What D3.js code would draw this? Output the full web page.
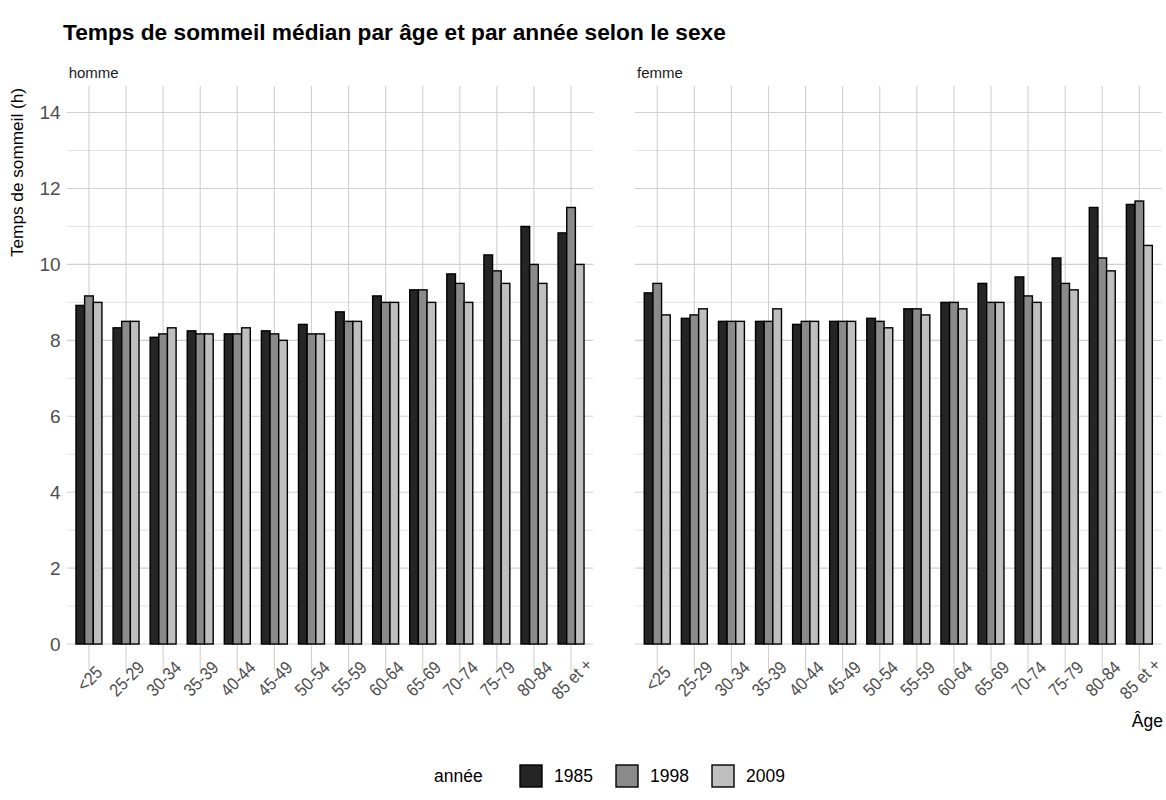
<!DOCTYPE html>
<html><head><meta charset="utf-8">
<script src="https://cdn.jsdelivr.net/npm/d3@7"></script>
<style>body{margin:0;background:#fff}svg{display:block;font-family:"Liberation Sans Narrow","Arial Narrow","Liberation Sans",Arial,sans-serif}</style>
</head><body><svg id="c" width="1166" height="800"></svg>
<script>
const ageGroups = ["<25","25-29","30-34","35-39","40-44","45-49","50-54","55-59","60-64","65-69","70-74","75-79","80-84","85 et +"];
const years = ["1985","1998","2009"];
const sexes = ["homme","femme"];
const homme1985 = [8.92,8.33,8.08,8.25,8.17,8.25,8.42,8.75,9.17,9.33,9.75,10.25,11.0,10.83];
const homme1998 = [9.17,8.5,8.17,8.17,8.17,8.17,8.17,8.5,9.0,9.33,9.5,9.83,10.0,11.5];
const homme2009 = [9.0,8.5,8.33,8.17,8.33,8.0,8.17,8.5,9.0,9.0,9.0,9.5,9.5,10.0];
const femme1985 = [9.25,8.58,8.5,8.5,8.42,8.5,8.58,8.83,9.0,9.5,9.67,10.17,11.5,11.58];
const femme1998 = [9.5,8.67,8.5,8.5,8.5,8.5,8.5,8.83,9.0,9.0,9.17,9.5,10.17,11.67];
const femme2009 = [8.67,8.83,8.5,8.83,8.5,8.5,8.33,8.67,8.83,9.0,9.0,9.33,9.83,10.5];
const yTicks = [0,2,4,6,8,10,12,14];
const yMinor = [1,3,5,7,9,11,13];

const seriesBySex = {homme:[homme1985,homme1998,homme2009], femme:[femme1985,femme1998,femme2009]};
const colors = d3.scaleOrdinal().domain(years).range(["#252525","#8a8a8a","#bfbfbf"]);

const svg = d3.select("#c");
const panelTop = 86, panelBottom = 670.6;
const y = d3.scaleLinear().domain([-0.7,14.7]).range([panelBottom,panelTop]);
const panels = [{sex:"homme",x0:66.7,x1:593.3},{sex:"femme",x0:635,x1:1161.6}];

svg.append("text").attr("x",63).attr("y",40).attr("font-family","'Liberation Sans',Arial,sans-serif")
  .attr("font-weight","bold").attr("font-size",22.7)
  .attr("fill","#000").text("Temps de sommeil médian par âge et par année selon le sexe");

panels.forEach((p,pi)=>{
  const x = d3.scaleBand().domain(ageGroups).range([p.x0,p.x1]).paddingInner(0).paddingOuter(0.1);
  const xs = d3.scaleBand().domain(years).range([0,x.bandwidth()*0.7]);
  const g = svg.append("g");
  g.selectAll(".mi").data(yMinor).join("line").attr("x1",p.x0).attr("x2",p.x1)
    .attr("y1",d=>y(d)).attr("y2",d=>y(d)).attr("stroke","#dcdcdc").attr("stroke-width",0.8);
  g.selectAll(".ma").data(yTicks).join("line").attr("x1",p.x0).attr("x2",p.x1)
    .attr("y1",d=>y(d)).attr("y2",d=>y(d)).attr("stroke","#d0d0d0").attr("stroke-width",1.1);
  g.selectAll(".vx").data(ageGroups).join("line").attr("x1",d=>x(d)+x.bandwidth()/2).attr("x2",d=>x(d)+x.bandwidth()/2)
    .attr("y1",panelTop).attr("y2",panelBottom).attr("stroke","#d0d0d0").attr("stroke-width",1.1);
  const rows = [];
  ageGroups.forEach((a,i)=>years.forEach((yr,j)=>rows.push({a,yr,v:seriesBySex[p.sex][j][i]})));
  g.selectAll("rect").data(rows).join("rect")
    .attr("x",d=>x(d.a)+x.bandwidth()*0.15+xs(d.yr)).attr("width",xs.bandwidth())
    .attr("y",d=>y(d.v)).attr("height",d=>y(0)-y(d.v))
    .attr("fill",d=>colors(d.yr)).attr("stroke","#000").attr("stroke-width",1.4);
  svg.append("text").attr("x",p.x0+2).attr("y",78).attr("font-size",15).attr("fill","#1a1a1a").text(p.sex);
  g.selectAll(".xl").data(ageGroups).join("text")
    .attr("transform",d=>`translate(${x(d)+x.bandwidth()/2+1},${679}) rotate(-45) scale(0.88,1)`)
    .attr("text-anchor","middle").attr("dominant-baseline","central")
    .attr("font-size",18).attr("fill","#4d4d4d").text(d=>d);
  if(pi===0){
    svg.append("g").selectAll("text").data(yTicks).join("text")
      .attr("x",p.x0-6).attr("y",d=>y(d)).attr("text-anchor","end").attr("dominant-baseline","central")
      .attr("font-size",19).attr("fill","#4d4d4d").text(d=>d);
  }
});

svg.append("text").attr("transform","translate(23,88) rotate(-90)").attr("text-anchor","end")
  .attr("font-size",17.2).attr("fill","#000").text("Temps de sommeil (h)");
svg.append("text").attr("x",1163).attr("y",727).attr("text-anchor","end").attr("font-size",17.5).attr("fill","#000").text("Âge");

const lg = svg.append("g");
const ly = 776;
lg.append("text").attr("x",434).attr("y",ly).attr("dominant-baseline","central").attr("font-size",17.5).text("année");
const lx = d3.scalePoint().domain(years).range([520,712]);
years.forEach(yr=>{
  lg.append("rect").attr("x",lx(yr)).attr("y",ly-11).attr("width",22).attr("height",22)
    .attr("fill",colors(yr)).attr("stroke","#000").attr("stroke-width",1.4);
  lg.append("text").attr("x",lx(yr)+34).attr("y",ly).attr("dominant-baseline","central").attr("font-size",17.5).text(yr);
});
</script></body></html>
